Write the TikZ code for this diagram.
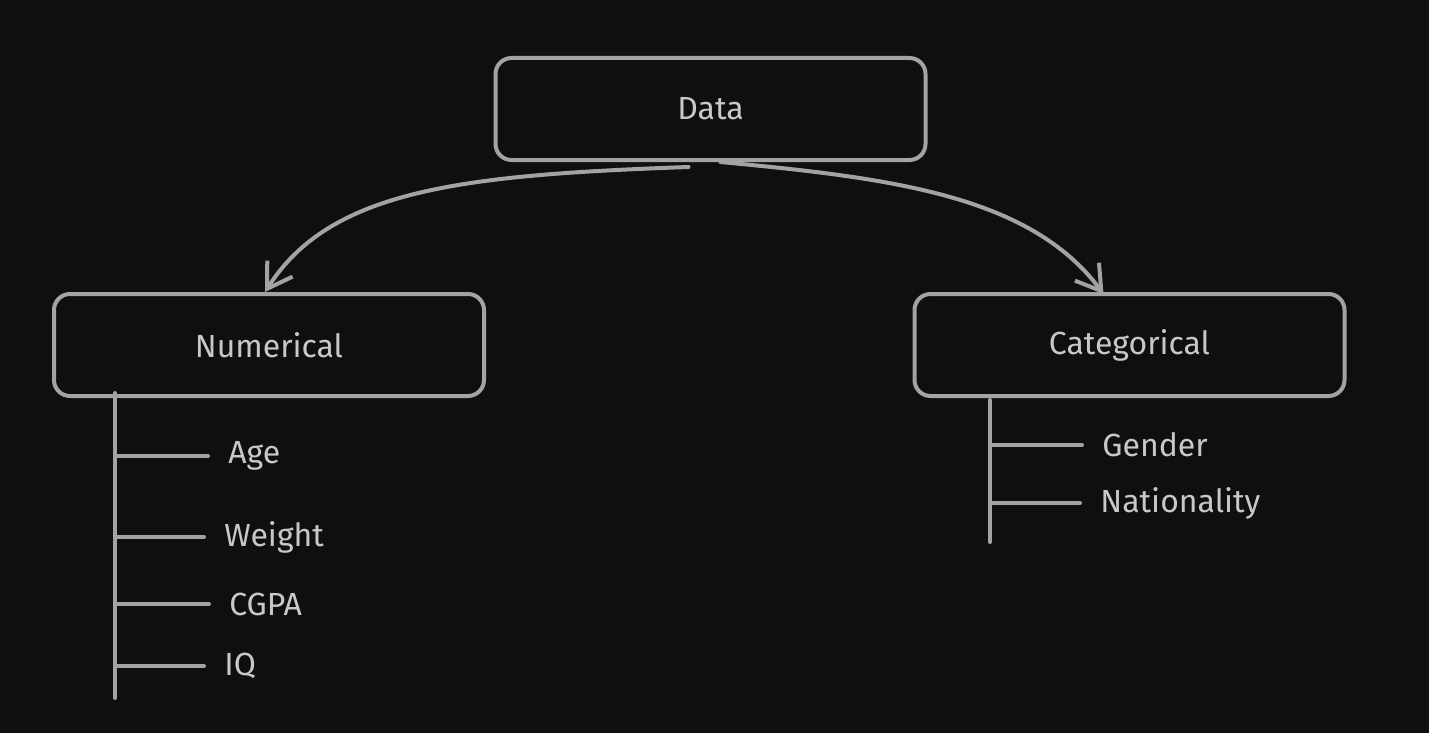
\documentclass[tikz,border=0pt]{standalone}
\usepackage{fontspec}
\setmainfont{Fira Sans}
\usetikzlibrary{arrows.meta}
\definecolor{bgdark}{HTML}{0F0F0F}
\definecolor{inkgrey}{HTML}{A3A3A3}
\definecolor{txtgrey}{HTML}{C8C8C8}
\tikzset{
  box/.style={draw=inkgrey, line width=2pt, rounded corners=8pt,
    minimum width=215pt, minimum height=51pt, text=txtgrey, font=\fontsize{16}{19}\selectfont},
  leaf/.style={anchor=west, text=txtgrey, inner sep=0pt, font=\fontsize{16}{19}\selectfont},
  link/.style={draw=inkgrey, line width=2pt, line cap=round},
  arrow/.style={link, -{Straight Barb[length=12pt, width=15pt, line width=2pt]}}
}
\begin{document}
\begin{tikzpicture}[x=0.5pt, y=-0.5pt]
  \fill[bgdark] (0,0) rectangle (1429,733);
  \useasboundingbox (0,0) rectangle (1429,733);
  % main boxes
  \node[box] (data) at (710.5,109) {Data};
  \node[box] (num) at (269,345) {Numerical};
  \node[box] (cat) at (1129.5,345) {Categorical};
  % arrows
  \draw[arrow] ([xshift=-11pt, yshift=-2.5pt]data.south)
    .. controls (460,175) and (330,190) .. ([xshift=-2pt]num.north);
  \draw[arrow] ([xshift=5pt]data.south)
    .. controls (890,178) and (1030,195) .. ([xshift=-13pt, yshift=-1pt]cat.north);
  % numerical leaves
  \node[leaf] (age) at (228,456) {Age};
  \node[leaf] (weight) at (224,537) {Weight};
  \node[leaf] (cgpa) at (229,604) {CGPA};
  \node[leaf] (iq) at (224,666) {IQ};
  \coordinate (numtop) at (115,393);
  \coordinate (numbot) at (115,698);
  \draw[link] (numtop) -- (numbot);
  \foreach \leafname in {age,weight,cgpa,iq}
    \draw[link] (numtop |- \leafname.west) -- ([xshift=-10pt]\leafname.west);
  % categorical leaves
  \node[leaf] (gender) at (1102,445) {Gender};
  \node[leaf] (nation) at (1100,503) {Nationality};
  \coordinate (cattop) at (990,400);
  \coordinate (catbot) at (990,542);
  \draw[link] (cattop) -- (catbot);
  \foreach \leafname in {gender,nation}
    \draw[link] (cattop |- \leafname.west) -- ([xshift=-10pt]\leafname.west);
\end{tikzpicture}
\end{document}
